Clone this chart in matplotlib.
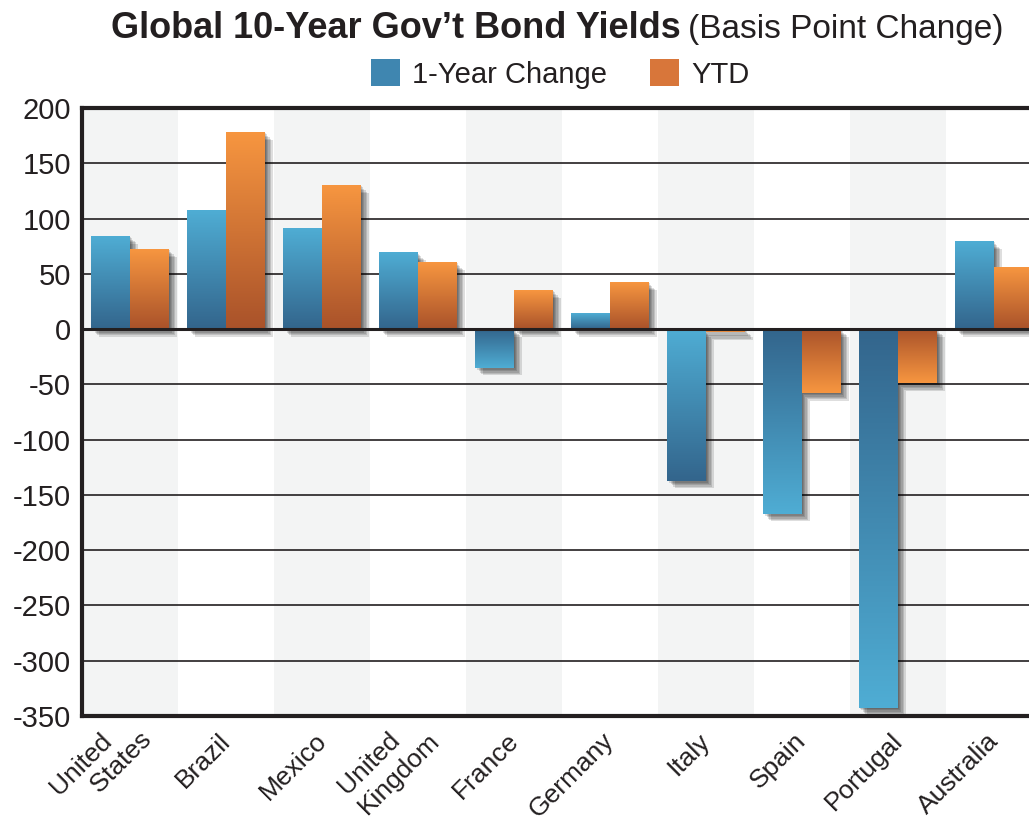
import numpy as np
import matplotlib
matplotlib.use("Agg")
import matplotlib.pyplot as plt
import matplotlib.patheffects as pe
import matplotlib.transforms as mtransforms
from matplotlib.colors import LinearSegmentedColormap
from matplotlib.patches import Patch

plt.rcParams['font.family'] = ['Liberation Sans', 'DejaVu Sans']

countries = ["United\n    States", "Brazil", "Mexico", "United\nKingdom", "France",
             "Germany", "Italy", "Spain", "Portugal", "Australia"]
one_year = [84, 107, 91, 69, -35, 14, -137, -167, -343, 79]
ytd = [72, 178, 130, 60, 35, 42, -3, -58, -49, 56]
yticks = [200, 150, 100, 50, 0, -50, -100, -150, -200, -250, -300, -350]

blue_light, blue_dark = "#4fadd4", "#33658c"
orange_light, orange_dark = "#f79640", "#a9522a"
txt_color = "#231f20"

fig = plt.figure(figsize=(10.29, 8.34), dpi=100)
ax = fig.add_axes([82/1029, 118/834, 960/1029, 608/834])

# alternating background bands
for i in range(len(countries)):
    if i % 2 == 0:
        ax.axvspan(i - 0.5, i + 0.5, color="#f3f4f4", zorder=0, lw=0)

# gridlines
for y in yticks:
    lw = 2.2 if y == 0 else 1.2
    ax.axhline(y, color=txt_color, lw=lw, zorder=1 if y != 0 else 5)

shadow = [pe.SimplePatchShadow(offset=(o, -o), shadow_rgbFace="k", alpha=0.13)
          for o in (0.5, 1.5, 2.5, 3.5, 4.5, 5.5)] + [pe.Normal()]

# Italy's 1-year bar has its light end at the top
light_top = {("b", 6)}

def grad_bar(x, v, w, c_light, c_dark, key):
    ax.bar(x, v, w, color=c_dark, zorder=2, path_effects=shadow)
    cmap = LinearSegmentedColormap.from_list("g", [c_dark, c_light])
    g = np.linspace(0, 1, 256).reshape(-1, 1)
    img = g if (v >= 0 or key in light_top) else g[::-1]
    y0, y1 = (0, v) if v >= 0 else (v, 0)
    ax.imshow(img, extent=[x - w/2, x + w/2, y0, y1], origin="lower",
              aspect="auto", cmap=cmap, zorder=3, interpolation="bilinear")

w = 0.405
for i in range(len(countries)):
    grad_bar(i - w/2, one_year[i], w, blue_light, blue_dark, ("b", i))
    grad_bar(i + w/2, ytd[i], w, orange_light, orange_dark, ("o", i))

ax.set_xlim(-0.5, len(countries) - 0.5)
ax.set_ylim(-350, 200)
ax.set_yticks(yticks)
ax.set_yticklabels([str(t) for t in yticks], fontsize=21, color=txt_color)
ax.set_xticks(range(len(countries)))
ax.set_xticklabels(countries, rotation=45, ha="right", va="top",
                   fontsize=19, color=txt_color, multialignment="left")
ax.tick_params(length=0, pad=8)
ax.tick_params(axis="x", pad=9)
for lab in ax.get_xticklabels():
    if "\n" in lab.get_text():
        dx, dy = 0.26, 0.20
    else:
        dx, dy = 0.09, 0.0
    shift = mtransforms.ScaledTranslation(dx, dy, fig.dpi_scale_trans)
    lab.set_transform(lab.get_transform() + shift)
for s in ["left", "bottom", "top"]:
    ax.spines[s].set_linewidth(3)
    ax.spines[s].set_color(txt_color)
ax.spines["right"].set_visible(False)

# legend
handles = [Patch(facecolor="#3f86b0", label="1-Year Change"),
           Patch(facecolor="#d8763a", label="YTD")]
fig.legend(handles=handles, loc="center", bbox_to_anchor=(560/1029, 1 - 74/834),
           ncol=2, frameon=False, fontsize=21, handlelength=1.0, handleheight=1.0,
           handletextpad=0.4, columnspacing=1.5, labelcolor=txt_color)

# title
fig.text(681/1029, 1 - 38/834, "Global 10-Year Gov\u2019t Bond Yields", ha="right",
         va="baseline", fontsize=26, fontweight="bold", color=txt_color)
fig.text(688/1029, 1 - 38/834, "(Basis Point Change)", ha="left",
         va="baseline", fontsize=24, color=txt_color)

fig.savefig("out.png", dpi=100)
